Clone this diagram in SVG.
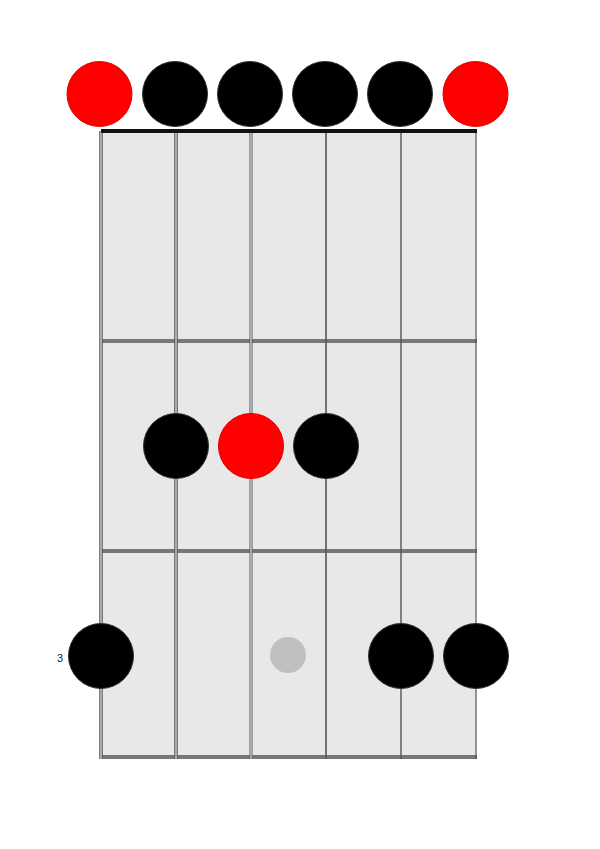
<svg xmlns="http://www.w3.org/2000/svg" width="600" height="849" viewBox="0 0 600 849">
<style>
.board{fill:#e8e8e8}
.fret{stroke:#777;stroke-width:4}
.nut{stroke:#111;stroke-width:4}
.str{stroke:#555}
.core{stroke:#fff;stroke-width:1}
.root{fill:#ff0000;stroke:#e00000;stroke-width:1}
.note{fill:#000;stroke:#333;stroke-width:1}
.mark{fill:#c0c0c0}
.lbl{font-family:"Liberation Sans",Arial,sans-serif;font-size:11px;fill:#222}
</style>
<rect class="board" x="101" y="131" width="375" height="626"/>
<g id="frets">
<line class="fret" x1="101" y1="341" x2="477" y2="341"/>
<line class="fret" x1="101" y1="551" x2="477" y2="551"/>
<line class="fret" x1="101" y1="757" x2="477" y2="757"/>
</g>
<g id="strings">
<line class="str" x1="101" y1="131" x2="101" y2="759" stroke-width="3.5"/>
<line class="core" x1="101" y1="131" x2="101" y2="759"/>
<line class="str" x1="176" y1="131" x2="176" y2="759" stroke-width="3.5"/>
<line class="core" x1="176" y1="131" x2="176" y2="759"/>
<line class="str" x1="251" y1="131" x2="251" y2="759" stroke-width="3"/>
<line class="core" x1="251" y1="131" x2="251" y2="759" stroke-width="0.8"/>
<line class="str" x1="326" y1="131" x2="326" y2="759" stroke-width="1.6"/>
<line class="str" x1="401" y1="131" x2="401" y2="759" stroke-width="1.4"/>
<line class="str" x1="476" y1="131" x2="476" y2="759" stroke-width="1.2"/>
</g>
<line id="nut" class="nut" x1="101" y1="131" x2="477" y2="131"/>
<circle id="marker" class="mark" cx="288" cy="655" r="18"/>
<g id="open-1"><circle class="root" cx="99.5" cy="94" r="32.5"/></g>
<g id="open-2"><circle class="note" cx="175" cy="94" r="32.5"/></g>
<g id="open-3"><circle class="note" cx="250" cy="94" r="32.5"/></g>
<g id="open-4"><circle class="note" cx="325" cy="94" r="32.5"/></g>
<g id="open-5"><circle class="note" cx="400" cy="94" r="32.5"/></g>
<g id="open-6"><circle class="root" cx="475.5" cy="94" r="32.5"/></g>
<g id="f2-s2"><circle class="note" cx="176" cy="446" r="32.5"/></g>
<g id="f2-s3"><circle class="root" cx="251" cy="446" r="32.5"/></g>
<g id="f2-s4"><circle class="note" cx="326" cy="446" r="32.5"/></g>
<g id="f3-s1"><circle class="note" cx="101" cy="656" r="32.5"/></g>
<g id="f3-s5"><circle class="note" cx="401" cy="656" r="32.5"/></g>
<g id="f3-s6"><circle class="note" cx="476" cy="656" r="32.5"/></g>
<text class="lbl" x="57" y="662">3</text>
</svg>
